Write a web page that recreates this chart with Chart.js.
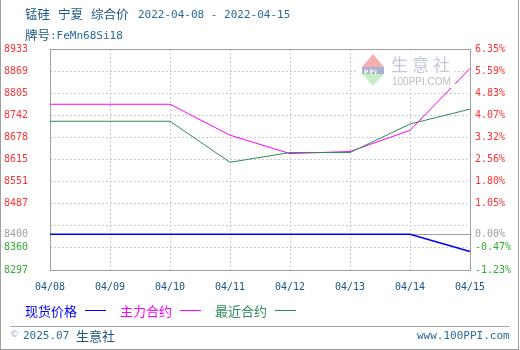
<!DOCTYPE html>
<html><head><meta charset="utf-8">
<script src="https://cdn.jsdelivr.net/npm/chart.js@4"></script>
<style>
html,body{margin:0;padding:0;background:#fff;}
#wrap{position:relative;width:520px;height:350px;overflow:hidden;background:#fff;}
#frame{position:absolute;left:0;top:0;width:517px;height:349px;border-left:1px solid #a0a0a0;border-right:1px solid #a0a0a0;border-bottom:1px solid #a0a0a0;}
canvas{position:absolute;left:0;top:0;}
.t{position:absolute;white-space:nowrap;line-height:1;}
.cjk{font-family:"Noto Sans CJK SC",sans-serif;}
.mono{font-family:"DejaVu Sans Mono",monospace;}
.lg{position:absolute;height:1px;width:21px;}
#wm{position:absolute;left:358px;top:52px;width:97px;height:36px;background:#fff;}
</style></head>
<body><div id="wrap">
<div id="frame"></div>
<canvas id="c" width="520" height="350"></canvas>

<div id="wm">
  <div style="position:absolute;left:4px;top:2px;width:0;height:0;border-left:11px solid transparent;border-right:11px solid transparent;border-bottom:13px solid #f4b0b0;"></div>
  <div style="position:absolute;left:4px;top:15px;width:22px;height:7px;background:#aab4cc;"></div>
  <div class="t" style="left:6px;top:15.5px;font:bold 6px 'DejaVu Sans';color:#fff;letter-spacing:1px;">PPI</div>
  <div style="position:absolute;left:4px;top:22px;width:0;height:0;border-left:11px solid transparent;border-right:11px solid transparent;border-top:12px solid #c8eec8;"></div>
  <div class="t cjk" style="left:33px;top:3px;font-size:17px;letter-spacing:4px;color:#c4c8dc;">生意社</div>
  <div class="t" style="left:34px;top:24.5px;font-family:'Liberation Sans';font-size:10px;color:#bdbdbd;">100PPI.COM</div>
</div>

<div class="t cjk" style="left:25px;top:8px;font-size:12.5px;color:#1b5585;">锰硅</div>
<div class="t cjk" style="left:58px;top:8px;font-size:12.5px;color:#1b5585;">宁夏</div>
<div class="t cjk" style="left:91px;top:8px;font-size:12.5px;color:#1b5585;">综合价</div>
<div class="t mono" style="left:138px;top:9px;font-size:11px;color:#2a6a9c;">2022-04-08 - 2022-04-15</div>
<div class="t cjk" style="left:25px;top:28.5px;font-size:12.5px;color:#1b5585;">牌号</div>
<div class="t mono" style="left:50px;top:29.5px;font-size:11px;color:#2a6a9c;">:FeMn68Si18</div>

<div class="t cjk" style="left:25px;top:303.5px;font-size:13px;color:#0000ff;">现货价格</div>
<div class="lg" style="left:85px;top:310px;background:#0000ff;"></div>
<div class="t cjk" style="left:120px;top:303.5px;font-size:13px;color:#ff00ff;">主力合约</div>
<div class="lg" style="left:180px;top:310px;background:#ff00ff;"></div>
<div class="t cjk" style="left:215px;top:303.5px;font-size:13px;color:#2e8b57;">最近合约</div>
<div class="lg" style="left:275px;top:310px;background:#2e8b57;"></div>

<div style="position:absolute;left:10px;top:326px;width:500px;height:1px;background:#a8a8a8;"></div>
<div class="t" style="left:10px;top:330px;font-family:'DejaVu Sans';font-size:9px;color:#9fb0c4;">©</div>
<div class="t mono" style="left:23px;top:330px;font-size:11px;color:#2a6a9c;">2025.07</div>
<div class="t cjk" style="left:76px;top:328.5px;font-size:13px;color:#1b5585;">生意社</div>
<div class="t mono" style="left:417px;top:330px;font-size:11px;color:#2a6a9c;">www.100PPI.com</div>
</div>
<script>
const categories = ['04/08','04/09','04/10','04/11','04/12','04/13','04/14','04/15'];
const spotPrice    = [8400, 8400, 8400, 8400, 8400, 8400, 8400, 8350];
const mainContract = [8774, 8774, 8774, 8685, 8632, 8638, 8699, 8877];
const nearContract = [8725, 8725, 8725, 8607, 8635, 8635, 8717, 8760];
const basePrice = 8400;
const yMin = 8297, yMax = 8933;
const yTickValues     = [8297, 8360.6, 8400, 8424.2, 8487.8, 8551.4, 8615, 8678.6, 8742.2, 8805.8, 8869.4, 8933];
const leftTickLabels  = ['8297','8360','8400','','8487','8551','8615','8678','8742','8805','8869','8933'];
const rightTickLabels = ['-1.23%','-0.47%','0.00%','','1.05%','1.80%','2.56%','3.32%','4.07%','4.83%','5.59%','6.35%'];

const tickColor = (ctx) => {
  const v = ctx.tick ? ctx.tick.value : 0;
  if (Math.abs(v - basePrice) < 0.01) return '#a0a0a0';
  return v > basePrice ? '#ff3333' : '#33aa33';
};
const setTicks = (scale) => { scale.ticks = yTickValues.map(v => ({value: v})); };
const tickFont = {family: 'DejaVu Sans Mono', size: 10};

const framePlugin = {
  id: 'frame',
  beforeDatasetsDraw(chart) {
    const {ctx, chartArea: a, scales: {y}} = chart;
    const yb = Math.round(y.getPixelForValue(basePrice)) + 0.5;
    ctx.save();
    ctx.setLineDash([]);
    ctx.lineWidth = 1;
    ctx.strokeStyle = '#a0a0a0';
    ctx.beginPath(); ctx.moveTo(a.left, yb); ctx.lineTo(a.right, yb); ctx.stroke();
    ctx.strokeRect(a.left + 0.5, a.top + 0.5, a.right - a.left, a.bottom - a.top);
    ctx.restore();
  }
};

new Chart(document.getElementById('c'), {
  type: 'line',
  data: {
    labels: categories,
    datasets: [
      {label: '现货价格', data: spotPrice, borderColor: '#0000ff', borderWidth: 1.5, order: 2},
      {label: '主力合约', data: mainContract, borderColor: '#ff00ff', borderWidth: 1, order: 1},
      {label: '最近合约', data: nearContract, borderColor: '#2e8b57', borderWidth: 1, order: 0}
    ]
  },
  options: {
    responsive: false,
    animation: false,
    devicePixelRatio: 1,
    layout: {padding: {left: 0, right: 0, top: 49, bottom: 50}},
    elements: {point: {radius: 0}, line: {tension: 0, fill: false}},
    plugins: {legend: {display: false}, tooltip: {enabled: false}},
    scales: {
      x: {
        type: 'category',
        offset: false,
        afterFit: (s) => { s.height = 30; },
        grid: {color: '#cccccc', drawTicks: false, tickLength: 0},
        border: {display: false, dash: [2, 2]},
        ticks: {color: '#1b5585', font: tickFont, padding: 11, autoSkip: false, maxRotation: 0}
      },
      y: {
        type: 'linear', position: 'left', min: yMin, max: yMax,
        afterBuildTicks: setTicks,
        afterFit: (s) => { s.width = 50; },
        grid: {color: (ctx) => (ctx.tick && Math.abs(ctx.tick.value - basePrice) < 0.01) ? 'rgba(0,0,0,0)' : '#cccccc', drawTicks: false, tickLength: 0},
        border: {display: false, dash: [2, 2]},
        ticks: {
          color: tickColor, font: tickFont, padding: 22, autoSkip: false,
          callback: (v) => leftTickLabels[yTickValues.findIndex(t => Math.abs(t - v) < 0.01)]
        }
      },
      y2: {
        type: 'linear', position: 'right', min: yMin, max: yMax,
        afterBuildTicks: setTicks,
        afterFit: (s) => { s.width = 50; },
        grid: {display: false, drawTicks: false, tickLength: 0},
        border: {display: false},
        ticks: {
          color: tickColor, font: tickFont, padding: 5, autoSkip: false,
          callback: (v) => rightTickLabels[yTickValues.findIndex(t => Math.abs(t - v) < 0.01)]
        }
      }
    }
  },
  plugins: [framePlugin]
});
</script>
</body></html>
